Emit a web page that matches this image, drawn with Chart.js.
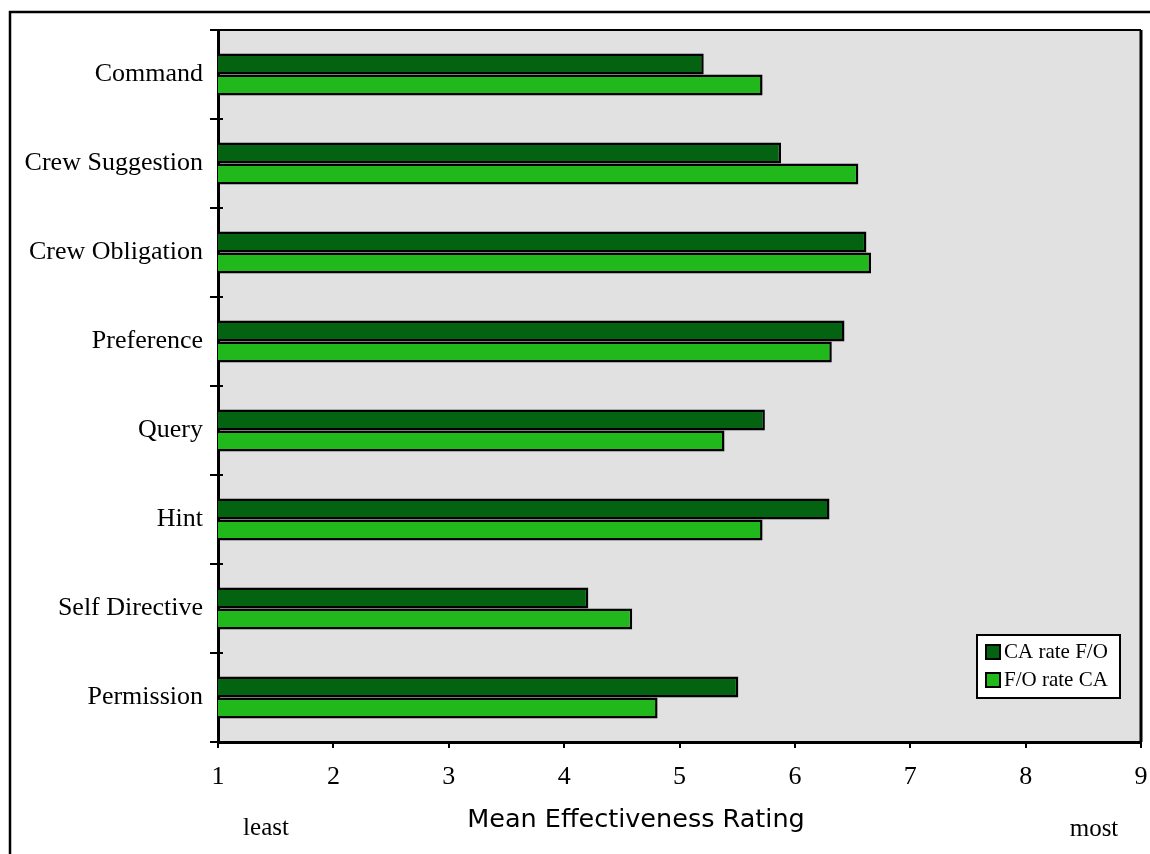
<!DOCTYPE html>
<html>
<head>
<meta charset="utf-8">
<script src="https://cdn.jsdelivr.net/npm/chart.js@4"></script>
<style>
	html, body { margin: 0; padding: 0; background: #fff; }
	#wrap { width: 1150px; height: 854px; }
</style>
</head>
<body>
<div id="wrap"><canvas id="barChart" width="1150" height="854"></canvas></div>
<script>
// data
const categories = ['Command', 'Crew Suggestion', 'Crew Obligation', 'Preference', 'Query', 'Hint', 'Self Directive', 'Permission'];
const caRateFO = [5.21, 5.88, 6.62, 6.43, 5.74, 6.30, 4.21, 5.51];
const foRateCA = [5.72, 6.55, 6.66, 6.32, 5.39, 5.72, 4.59, 4.81];
const seriesNames = ['CA rate F/O', 'F/O rate CA'];
const xTicks = [1, 2, 3, 4, 5, 6, 7, 8, 9];
const axisTitle = 'Mean Effectiveness Rating';
const endLabels = ['least', 'most'];

const darkGreen = '#036311';
const lightGreen = '#20b81a';
const serif = "'Liberation Serif', 'Times New Roman', serif";

// grey plot area, frame and top/right border
const plotBackground = {
	id: 'plotBackground',
	beforeDraw(chart) {
		const ctx = chart.ctx;
		const a = chart.chartArea;
		ctx.save();
		// outer frame
		ctx.strokeStyle = '#000';
		ctx.lineWidth = 2.5;
		ctx.strokeRect(10, 12, 1160, 870);
		ctx.fillStyle = '#e1e1e1';
		ctx.fillRect(a.left, a.top, a.right - a.left, a.bottom - a.top);
		ctx.lineWidth = 2;
		ctx.beginPath();
		ctx.moveTo(a.left - 8, a.top);
		ctx.lineTo(a.right, a.top);
		ctx.stroke();
		ctx.lineWidth = 3;
		ctx.beginPath();
		ctx.moveTo(a.right, a.top);
		ctx.lineTo(a.right, a.bottom);
		ctx.stroke();
		ctx.restore();
	}
};

// legend box, axis title and least / most
const extras = {
	id: 'extras',
	afterDraw(chart) {
		const ctx = chart.ctx;
		const a = chart.chartArea;
		ctx.save();

		// category ticks cross into the plot a little
		ctx.strokeStyle = '#000';
		ctx.lineWidth = 2;
		const n = chart.data.labels.length;
		for (let i = 1; i < n; i++) {
			const y = a.top + i * (a.bottom - a.top) / n;
			ctx.beginPath();
			ctx.moveTo(a.left, y);
			ctx.lineTo(a.left + 5, y);
			ctx.stroke();
		}

		const bx = a.right - 164, by = a.bottom - 107, bw = 143, bh = 63;
		ctx.fillStyle = '#fff';
		ctx.fillRect(bx, by, bw, bh);
		ctx.strokeRect(bx, by, bw, bh);

		ctx.font = '21px ' + serif;
		ctx.textBaseline = 'middle';
		ctx.textAlign = 'left';
		chart.data.datasets.forEach((ds, i) => {
			const cy = by + 17 + i * 28;
			ctx.fillStyle = ds.backgroundColor;
			ctx.fillRect(bx + 9, cy - 7, 14, 14);
			ctx.strokeRect(bx + 9, cy - 7, 14, 14);
			ctx.fillStyle = '#000';
			ctx.fillText(ds.label, bx + 27, cy);
		});

		ctx.textAlign = 'center';
		ctx.font = "25.5px 'DejaVu Sans', sans-serif";
		ctx.fillText(axisTitle, a.left + 418, a.bottom + 78);

		ctx.font = '25px ' + serif;
		ctx.fillText(endLabels[0], a.left + 48, a.bottom + 86);
		ctx.fillText(endLabels[1], a.right - 47, a.bottom + 87);
		ctx.restore();
	}
};

const ctx = document.getElementById('barChart').getContext('2d');
const barChart = new Chart(ctx, {
	type: 'bar',
	data: {
		labels: categories,
		datasets: [{
			label: seriesNames[0],
			data: caRateFO,
			backgroundColor: darkGreen,
			borderColor: '#000',
			borderWidth: 2.5,
			borderSkipped: false,
			barPercentage: 1,
			categoryPercentage: 0.47
		}, {
			label: seriesNames[1],
			data: foRateCA,
			backgroundColor: lightGreen,
			borderColor: '#000',
			borderWidth: 2.5,
			borderSkipped: false,
			barPercentage: 1,
			categoryPercentage: 0.47
		}]
	},
	options: {
		indexAxis: 'y',
		responsive: false,
		animation: false,
		layout: { padding: { left: 0, right: 9, top: 30, bottom: 0 } },
		plugins: {
			legend: { display: false },
			tooltip: { enabled: false }
		},
		scales: {
			x: {
				min: xTicks[0],
				max: xTicks[xTicks.length - 1],
				afterBuildTicks: (scale) => { scale.ticks = xTicks.map(v => ({ value: v })); },
				afterFit: (scale) => {
					scale.height = 112;
					scale.paddingLeft = 0;
					scale.paddingRight = 0;
				},
				grid: { drawOnChartArea: false, tickLength: 6, color: '#000', lineWidth: 2 },
				border: { color: '#000', width: 3 },
				ticks: { color: '#000', padding: 14, font: { family: serif, size: 26 } }
			},
			y: {
				afterFit: (scale) => {
					scale.width = 218;
					scale.paddingTop = 0;
					scale.paddingBottom = 0;
				},
				grid: { drawOnChartArea: false, tickLength: 8, color: '#000', lineWidth: 2, offset: true },
				border: { color: '#000', width: 3 },
				ticks: { color: '#000', padding: 7, font: { family: serif, size: 26 } }
			}
		}
	},
	plugins: [plotBackground, extras]
});
</script>
</body>
</html>
